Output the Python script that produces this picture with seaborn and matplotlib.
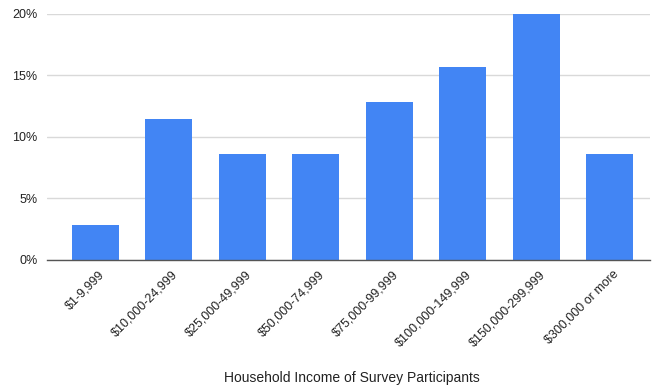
import matplotlib
matplotlib.use("Agg")
import matplotlib.pyplot as plt
import matplotlib.transforms as mtransforms
import seaborn as sns
import pandas as pd
from matplotlib.ticker import FuncFormatter

categories = ["$1-9,999", "$10,000-24,999", "$25,000-49,999", "$50,000-74,999",
              "$75,000-99,999", "$100,000-149,999", "$150,000-299,999", "$300,000 or more"]
values = [2.86, 11.43, 8.57, 8.57, 12.86, 15.71, 20.0, 8.57]
yticks = [0, 5, 10, 15, 20]
xlabel = "Household Income of Survey Participants"

sns.set_theme(style="white")
plt.rcParams['font.family'] = ['Liberation Sans', 'DejaVu Sans']

df = pd.DataFrame({"cat": categories, "val": values})

fig = plt.figure(figsize=(6.54, 3.9), dpi=100)
ax = fig.add_axes([47/654, (390-260)/390, (650-47)/654, (260-13.7)/390])
sns.barplot(data=df, x="cat", y="val", color="#4285F4", width=0.64, ax=ax,
            saturation=1, edgecolor="none", zorder=3)
ax.set_ylim(0, 20)
ax.set_xlim(-0.66, 7.55)
ax.set_yticks(yticks)
ax.yaxis.set_major_formatter(FuncFormatter(lambda v, p: f"{int(v)}%"))
ax.grid(axis="y", color="#d9d9d9", linewidth=1, zorder=0)
ax.set_axisbelow(True)
for s in ["top", "right", "left"]:
    ax.spines[s].set_visible(False)
ax.spines["bottom"].set_color("#555555")
ax.spines["bottom"].set_linewidth(1)
ax.spines["bottom"].set_zorder(4)
ax.tick_params(axis="both", length=0, labelsize=9, colors="#222222")
ax.tick_params(axis="y", pad=7)
ax.tick_params(axis="x", pad=6)
plt.setp(ax.get_xticklabels(), rotation=45, ha="right", rotation_mode="anchor")
offset = mtransforms.ScaledTranslation(3/100, 0, fig.dpi_scale_trans)
for t in ax.get_xticklabels():
    t.set_color("#222222")
    t.set_transform(t.get_transform() + offset)
ax.set_ylabel("")
ax.set_xlabel(xlabel, fontsize=10, color="#222222", labelpad=0)
ax.xaxis.set_label_coords((352-47)/(650-47), -(378-260)/(260-13.7))
ax.xaxis.label.set_va("center")

fig.savefig("out.png", dpi=100, facecolor="white")
